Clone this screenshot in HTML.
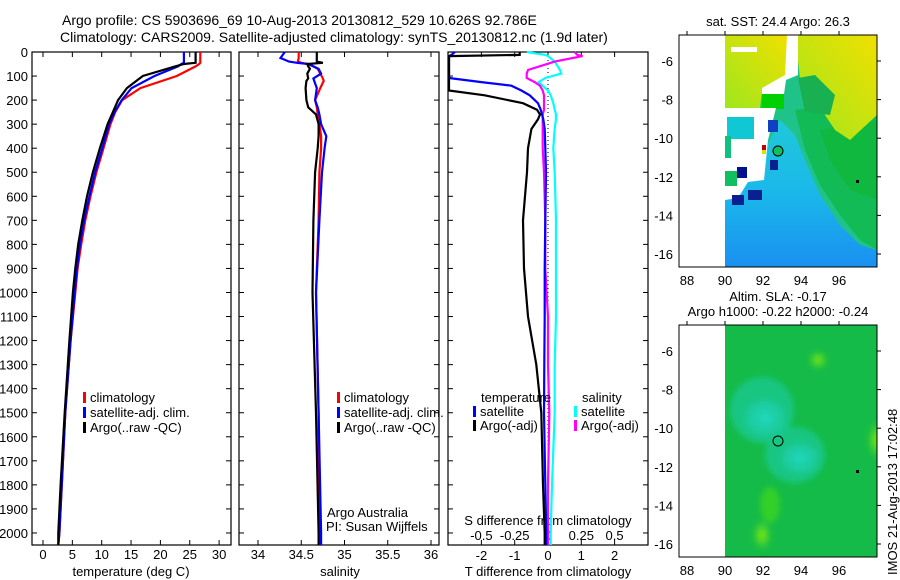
<!DOCTYPE html>
<html><head><meta charset="utf-8">
<style>
html,body{margin:0;padding:0;background:#fff;}
svg{display:block;font-family:"Liberation Sans",sans-serif;}
text{font-size:13px;fill:#000;}
</style></head>
<body>
<svg id="fig" width="900" height="580" viewBox="0 0 900 580" xmlns="http://www.w3.org/2000/svg">
<text x="62" y="25" style="font-size:14px">Argo profile: CS 5903696_69 10-Aug-2013 20130812_529 10.626S 92.786E</text>
<text x="60" y="42" style="font-size:14px">Climatology: CARS2009. Satellite-adjusted climatology: synTS_20130812.nc (1.9d later)</text>

<g>
<defs>
<linearGradient id="yel" x1="0" y1="1" x2="1" y2="0"><stop offset="0" stop-color="#9ee61e"/><stop offset="1" stop-color="#f0e000"/></linearGradient>
<linearGradient id="blu" x1="0" y1="0" x2="0" y2="1"><stop offset="0" stop-color="#20c8d8"/><stop offset="0.5" stop-color="#1ab8ea"/><stop offset="1" stop-color="#1a90f0"/></linearGradient>
<radialGradient id="sla1"><stop offset="0" stop-color="#20d8c0"/><stop offset="0.6" stop-color="#20d0b0" stop-opacity="0.7"/><stop offset="1" stop-color="#20d0b0" stop-opacity="0"/></radialGradient>
<radialGradient id="sla2"><stop offset="0" stop-color="#90f000"/><stop offset="1" stop-color="#60e020" stop-opacity="0"/></radialGradient>
<filter id="bl"><feGaussianBlur stdDeviation="3"/></filter>
<clipPath id="c2"><rect x="725" y="325" width="152" height="232"/></clipPath>
</defs>
<text x="778" y="26" text-anchor="middle">sat. SST: 24.4  Argo: 26.3</text>
<rect x="725" y="35" width="152" height="232" fill="#1fc38a"/>
<polygon points="725,200 740,185 765,150 780,120 795,135 805,160 820,195 840,225 860,245 877,250 877,267 725,267" fill="url(#blu)"/>
<polygon points="795,110 877,100 877,250 860,240 840,215 820,185 805,150 800,130" fill="#12bb55"/>
<polygon points="820,130 877,120 877,200 850,190 830,160" fill="#10b840"/>
<polygon points="725,35 787,35 787,75 762,92 760,108 725,108" fill="url(#yel)"/>
<polygon points="795,35 877,35 877,115 850,140 835,130 815,100 800,78" fill="url(#yel)"/>
<polygon points="798,78 815,75 835,95 830,115 805,112" fill="#18b050"/>
<rect x="762" y="94" width="22" height="15" fill="#00d000"/>
<rect x="731" y="47" width="26" height="5" fill="#fff"/>
<polygon points="787,35 798,35 798,75 786,80 784,94 762,94 762,88 785,75" fill="#fff"/>
<polygon points="725,108 776,108 768,140 764,180 748,182 738,198 725,200" fill="#fff"/>
<rect x="727" y="117" width="27" height="22" fill="#10c8d4"/>
<rect x="725" y="136" width="6" height="22" fill="#10c080"/>
<rect x="737" y="167" width="10" height="11" fill="#001090"/>
<rect x="725" y="171" width="12" height="15" fill="#10c060"/>
<rect x="768" y="120" width="10" height="12" fill="#1040c0"/>
<rect x="770" y="160" width="8" height="10" fill="#0a2090"/>
<rect x="748" y="190" width="14" height="10" fill="#0a2090"/>
<rect x="732" y="195" width="12" height="10" fill="#0a2090"/>
<rect x="762" y="145" width="4" height="5" fill="#c00000"/>
<rect x="762" y="150" width="4" height="4" fill="#e0e000"/>
<circle cx="778" cy="151" r="5" fill="#10c060" stroke="#000" stroke-width="1"/>
<rect x="856" y="180" width="3" height="3" fill="#000"/>
<rect x="679" y="35" width="198" height="232" fill="none" stroke="#000" stroke-width="1"/>
</g>

<g>
<text x="778" y="301" text-anchor="middle">Altim. SLA: -0.17</text>
<text x="778" y="316" text-anchor="middle">Argo h1000: -0.22 h2000: -0.24</text>
<rect x="725" y="325" width="152" height="232" fill="#14bb48"/>
<g clip-path="url(#c2)"><g filter="url(#bl)">
<ellipse cx="762" cy="410" rx="32" ry="33" fill="#18c890" opacity="0.8"/>
<ellipse cx="795" cy="455" rx="30" ry="28" fill="#18c890" opacity="0.8"/>
<ellipse cx="765" cy="418" rx="24" ry="22" fill="url(#sla1)"/>
<ellipse cx="800" cy="458" rx="22" ry="18" fill="url(#sla1)"/>
<ellipse cx="818" cy="360" rx="10" ry="10" fill="url(#sla2)"/>
<ellipse cx="877" cy="440" rx="10" ry="20" fill="url(#sla2)"/>
<ellipse cx="762" cy="535" rx="10" ry="16" fill="url(#sla2)"/>
<ellipse cx="770" cy="505" rx="10" ry="18" fill="#40d820" opacity="0.7"/>
</g></g>
<circle cx="778" cy="441" r="5" fill="none" stroke="#000" stroke-width="1"/>
<rect x="856" y="470" width="3" height="3" fill="#000"/>
<rect x="679" y="325" width="198" height="232" fill="none" stroke="#000" stroke-width="1"/>
<text transform="translate(897,575) rotate(-90)" style="font-size:13px">IMOS 21-Aug-2013 17:02:48</text>
</g>
<g id="dyn"></g>
</svg>
<script>
// ---- data ----
const depthsT = [0,45,50,60,100,150,200,250,300,400,500,600,700,800,900,1000,1200,1500,1800,2000,2050];
const tempClim = [26.8,26.8,26.6,26.0,22.8,16.6,13.5,12.3,11.5,10.3,9.1,8.1,7.2,6.5,5.9,5.5,4.7,3.8,3.2,2.8,2.6];
const tempSat  = [24.0,24.0,23.6,23.0,19.0,15.1,13.4,12.2,11.3,10.1,8.9,7.9,7.0,6.3,5.8,5.4,4.7,3.8,3.2,2.8,2.6];
const tempArgo = [26.0,26.0,24.0,22.5,17.0,14.3,12.8,11.9,11.0,9.7,8.5,7.5,6.7,6.0,5.5,5.1,4.5,3.7,3.0,2.6,2.6];

const depthsS = [0,25,40,45,50,60,70,90,110,120,150,200,230,260,300,350,400,500,700,1000,1500,2000,2050];
const salClim = [34.47,34.47,34.46,34.50,34.58,34.64,34.69,34.72,34.75,34.76,34.72,34.66,34.68,34.69,34.71,34.73,34.73,34.71,34.70,34.67,34.70,34.71,34.71];
const salSat  = [34.31,34.26,34.36,34.45,34.58,34.64,34.70,34.73,34.64,34.65,34.68,34.66,34.69,34.71,34.73,34.79,34.77,34.74,34.71,34.67,34.70,34.73,34.73];
const salArgo = [34.68,34.68,34.68,34.75,34.57,34.58,34.60,34.57,34.58,34.56,34.55,34.56,34.58,34.67,34.70,34.70,34.69,34.66,34.64,34.63,34.67,34.70,34.70];

const depthsD = [0,12,17,40,75,90,108,125,140,160,180,213,240,260,280,320,400,500,700,900,1100,1300,1500,1800,2000,2050];
const dTsat  = [-2.8,-2.9,-3,-3,-3,-3,-3,-2.0,-1.1,-0.8,-0.55,-0.3,-0.22,-0.18,-0.14,-0.1,-0.08,-0.06,-0.08,-0.1,-0.1,-0.11,-0.12,-0.08,-0.05,-0.05];
const dTargo = [-0.85,-0.85,-3,-3,-3,-3,-3,-3,-3,-3,-1.9,-0.75,-0.33,-0.24,-0.3,-0.5,-0.6,-0.63,-0.75,-0.72,-0.6,-0.35,-0.2,-0.15,-0.1,-0.1];
const dSsat  = [-0.16,-0.02,0.0,0.05,0.09,0.1,-0.02,-0.07,-0.04,0.0,0.02,0.04,0.05,0.06,0.06,0.05,0.04,0.05,0.06,0.06,0.06,0.05,0.05,0.03,0.02,0.02];
const dSargo = [0.2,0.22,0.26,0.05,-0.15,-0.16,-0.16,-0.1,-0.06,-0.04,-0.03,-0.03,-0.03,-0.04,-0.04,-0.04,-0.04,-0.03,-0.02,-0.02,0.0,0.0,0.01,0.0,0.0,0.0];

const depthTicks = [0,100,200,300,400,500,600,700,800,900,1000,1100,1200,1300,1400,1500,1600,1700,1800,1900,2000];
const tempTicks = [0,5,10,15,20,25,30];
const salTicks = [34,34.5,35,35.5,36];
const dTTicks = [-2,-1,0,1,2];
const dSTicks = [-0.5,-0.25,0,0.25,0.5];
const lonTicks = [88,90,92,94,96];
const latTicks = [-6,-8,-10,-12,-14,-16];

// ---- scales ----
const Y0 = 52, YB = 545;
const yD = d => Y0 + (d/2050)*(YB-Y0);
const xT = t => 43 + t*5.87;
const xS = s => 258 + (s-34)*86.5;
const xdT = v => 548 + v*33.3;
const xdS = v => 548 + v*133.2;
const xLon = l => 687 + (l-88)*19;
const yLat1 = l => 61 + (-6-l)*19.3;
const yLat2 = l => 351 + (-6-l)*19.3;

const NS = "http://www.w3.org/2000/svg";
const g = document.getElementById('dyn');
function mk(tag, attrs, parent) {
  const e = document.createElementNS(NS, tag);
  for (const k in attrs) e.setAttribute(k, attrs[k]);
  (parent||g).appendChild(e);
  return e;
}
function txt(x, y, s, anchor) {
  const e = mk('text', {x:x, y:y, 'text-anchor':anchor||'start'});
  e.textContent = s;
  return e;
}
function stepLine(xs, ds, xf, color, name, lo, hi) {
  let p = '';
  for (let i=0;i<xs.length;i++) {
    const x = Math.max(lo, Math.min(hi, xf(xs[i])));
    p += (i? ' L':'M') + x.toFixed(1) + ' ' + yD(ds[i]).toFixed(1);
  }
  const e = mk('path', {d:p, fill:'none', stroke:color, 'stroke-width':2.2, 'stroke-linejoin':'miter'});
  
  
  return e;
}

const panels = [[32,231,'temperature-panel'],[239,439,'salinity-panel'],[448,648,'difference-panel']];
panels.forEach(p => {
  const r = mk('rect', {x:p[0], y:Y0, width:p[1]-p[0], height:YB-Y0, fill:'none', stroke:'#000', 'stroke-width':1.2});
  
  
  depthTicks.forEach(d => {
    mk('line', {x1:p[0], x2:p[0]+5, y1:yD(d), y2:yD(d), stroke:'#000'});
    mk('line', {x1:p[1], x2:p[1]-5, y1:yD(d), y2:yD(d), stroke:'#000'});
  });
});
depthTicks.forEach(d => {
  const e = txt(28, yD(d)+5, String(d), 'end');
  
  
});
function xticks(ticks, f, labY) {
  ticks.forEach(t => {
    mk('line', {x1:f(t), x2:f(t), y1:YB, y2:YB-5, stroke:'#000'});
    mk('line', {x1:f(t), x2:f(t), y1:Y0, y2:Y0+5, stroke:'#000'});
    const e = txt(f(t), labY, String(t), 'middle');
    
    
  });
}
xticks(tempTicks, xT, 559);
xticks(salTicks, xS, 559);
xticks(dTTicks, xdT, 560);
dSTicks.forEach(t => {
  const e = txt(xdS(t), 540, t===0 ? '0' : (t<0 ? '-' : '') + String(Math.abs(t)), 'middle');
  
  
});
let e;
e = txt(131, 576, 'temperature (deg C)', 'middle');  
e = txt(340, 576, 'salinity', 'middle');  
e = txt(548, 576, 'T difference from climatology', 'middle');  
e = txt(548, 525, 'S difference from climatology', 'middle');  

mk('line', {x1:548, x2:548, y1:Y0, y2:YB, stroke:'#000', 'stroke-dasharray':'1,3'});

stepLine(tempClim, depthsT, xT, '#ff0000', 'temp-climatology-line', 33, 230);
stepLine(tempSat, depthsT, xT, '#0000ff', 'temp-satellite-line', 33, 230);
stepLine(tempArgo, depthsT, xT, '#000000', 'temp-argo-line', 33, 230);
stepLine(salClim, depthsS, xS, '#ff0000', 'sal-climatology-line', 240, 438);
stepLine(salSat, depthsS, xS, '#0000ff', 'sal-satellite-line', 240, 438);
stepLine(salArgo, depthsS, xS, '#000000', 'sal-argo-line', 240, 438);
stepLine(dSsat, depthsD, xdS, '#00ffff', 'sdiff-satellite-line', 449, 647);
stepLine(dSargo, depthsD, xdS, '#ff00ff', 'sdiff-argo-line', 449, 647);
stepLine(dTsat, depthsD, xdT, '#0000ff', 'tdiff-satellite-line', 449, 647);
stepLine(dTargo, depthsD, xdT, '#000000', 'tdiff-argo-line', 449, 647);

function leg(x, y, color, label) {
  mk('rect', {x:x, y:y-10, width:3, height:11, fill:color});
  const t = txt(x+7, y, label);
  
  
}
leg(83, 402, '#ff0000', 'climatology');
leg(83, 417, '#0000ff', 'satellite-adj. clim.');
leg(83, 432, '#000000', 'Argo(..raw -QC)');
leg(337, 402, '#ff0000', 'climatology');
leg(337, 417, '#0000ff', 'satellite-adj. clim.');
leg(337, 432, '#000000', 'Argo(..raw -QC)');
e = txt(481, 402, 'temperature');  
e = txt(582, 402, 'salinity');  
leg(473, 416, '#0000ff', 'satellite');
leg(473, 430, '#000000', 'Argo(-adj)');
leg(574, 416, '#00ffff', 'satellite');
leg(574, 430, '#ff00ff', 'Argo(-adj)');
e = txt(327, 517, 'Argo Australia');  
e = txt(326, 531, 'PI: Susan Wijffels');  

[[35,267,yLat1,285],[325,557,yLat2,575]].forEach(m => {
  lonTicks.forEach(l => {
    mk('line', {x1:xLon(l), x2:xLon(l), y1:m[0], y2:m[0]-4, stroke:'#000'});
    const t = txt(xLon(l), m[3], String(l), 'middle');
    
    
  });
  latTicks.forEach(l => {
    mk('line', {x1:877, x2:881, y1:m[2](l), y2:m[2](l), stroke:'#000'});
    const t = txt(673, m[2](l)+5, String(l), 'end');
    
    
  });
});
</script>
</body></html>
